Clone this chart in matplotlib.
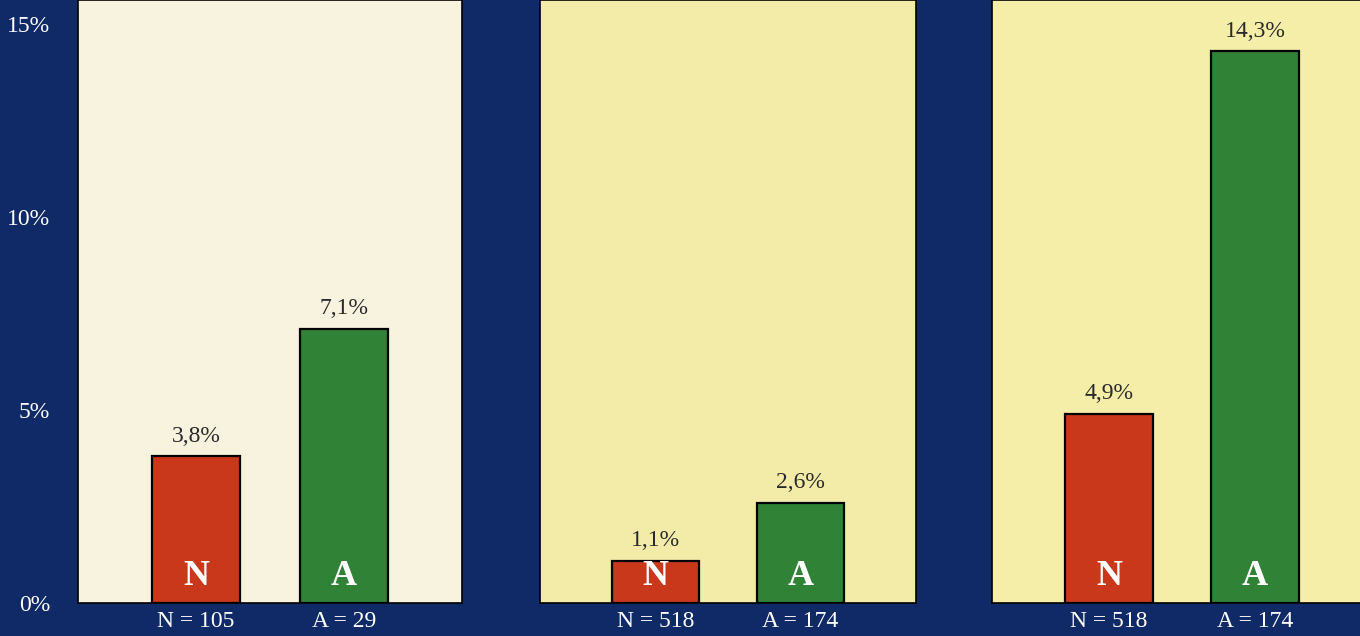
import matplotlib
matplotlib.use('Agg')
import matplotlib.pyplot as plt

# values per panel
n_values = [3.8, 1.1, 4.9]
a_values = [7.1, 2.6, 14.3]
n_counts = [105, 518, 518]
a_counts = [29, 174, 174]
y_ticks = [0, 5, 10, 15]

NAVY = '#0f2a66'
PANEL_COLORS = ['#f7f3df', '#f3eca9', '#f5eea9']
RED = '#c9381b'
GREEN = '#2f8236'

plt.rcParams['font.family'] = ['Liberation Serif', 'DejaVu Serif']

W, H = 1360, 636


def fmt(v):
    return f'{v:.1f}'.replace('.', ',') + '%'


def draw_panel(ax, n_val, a_val, n_cnt, a_cnt, face, show_y):
    ax.set_facecolor(face)
    vals = [n_val, a_val]
    colors = [RED, GREEN]
    letters = ['N', 'A']
    bars = ax.bar([0, 1], vals, width=0.6, color=colors, edgecolor='black', linewidth=1.6, zorder=3)
    for bar, v, letter in zip(bars, vals, letters):
        x = bar.get_x() + bar.get_width() / 2
        ax.annotate(fmt(v), (x, v), xytext=(0, 7), textcoords='offset points',
                    ha='center', va='bottom', fontsize=17, color='#2a2a2a')
        ax.annotate(letter, (x, 0), xytext=(0, 7), textcoords='offset points',
                    ha='center', va='bottom', fontsize=26, fontweight='bold', color='white')
    ax.set_xlim(-0.8, 1.8)
    ax.set_ylim(0, 15.63)
    ax.set_xticks([0, 1])
    ax.set_xticklabels([f'N = {n_cnt}', f'A = {a_cnt}'], color='white', fontsize=17)
    ax.tick_params(axis='x', length=0, pad=6)
    if show_y:
        ax.set_yticks(y_ticks)
        ax.set_yticklabels([f'{t}%' for t in y_ticks], color='white', fontsize=17)
        ax.tick_params(axis='y', length=0, pad=20)
    else:
        ax.set_yticks([])
    for s in ax.spines.values():
        s.set_color('black')
        s.set_linewidth(1.2)


fig = plt.figure(figsize=(W / 100, H / 100), dpi=100)
fig.patch.set_facecolor(NAVY)

bottom_px = 603
lefts_px = [78, 540, 992]
widths_px = [384, 376, 380]
for i in range(3):
    ax = fig.add_axes([lefts_px[i] / W, 1 - bottom_px / H, widths_px[i] / W, bottom_px / H])
    draw_panel(ax, n_values[i], a_values[i], n_counts[i], a_counts[i], PANEL_COLORS[i], i == 0)

fig.savefig('out.png', dpi=100, facecolor=NAVY)
